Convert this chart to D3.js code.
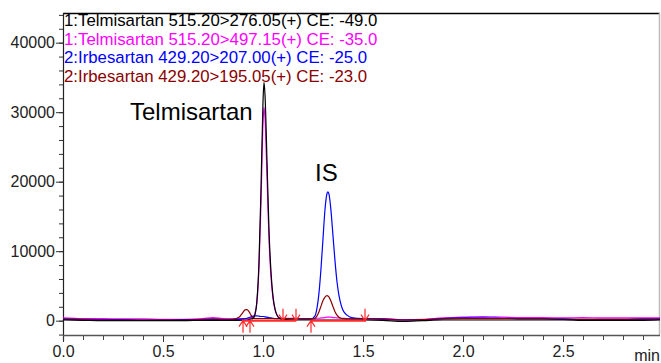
<!DOCTYPE html>
<html>
<head>
<meta charset="utf-8">
<script src="https://cdn.jsdelivr.net/npm/d3@7"></script>
<style>
  html, body { margin: 0; padding: 0; background: #fff; }
  svg { display: block; font-family: "Liberation Sans", Arial, sans-serif; }
</style>
</head>
<body>
<svg id="chart" width="661" height="363"></svg>
<script>
// ---- data ----
const times = [0, 0.1, 0.2, 0.3, 0.4, 0.5, 0.6, 0.7, 0.75, 0.8,
  0.85, 0.88, 0.9, 0.91, 0.92, 0.93, 0.94, 0.95, 0.96, 0.97,
  0.98, 0.99, 1.0, 1.005, 1.01, 1.02, 1.03, 1.04, 1.05, 1.06,
  1.07, 1.08, 1.1, 1.15, 1.2, 1.24, 1.26, 1.27, 1.28, 1.29,
  1.3, 1.31, 1.32, 1.325, 1.33, 1.34, 1.35, 1.36, 1.37, 1.38,
  1.39, 1.4, 1.42, 1.45, 1.5, 1.6, 1.7, 1.8, 1.9, 2.0,
  2.1, 2.2, 2.3, 2.4, 2.5, 2.6, 2.7, 2.8, 2.9, 2.985];

const telmi276 = [100, 50, 0, 0, 0, 0, 0, 50, 50, 50,
  50, 50, 80, 100, 100, 150, 250, 300, 900, 3000,
  8500, 19000, 31500, 34300, 32500, 23000, 13000, 7000, 3500, 1700,
  800, 400, 200, 100, 100, 100, 100, 100, 100, 100,
  100, 100, 100, 100, 100, 100, 100, 100, 100, 100,
  100, 100, 100, 100, 100, 50, -100, 0, 100, 100,
  100, 100, 100, 100, 100, 50, 50, 50, 50, 100];

const telmi497 = [400, 300, 300, 250, 250, 200, 200, 300, 450, 300,
  250, 300, 300, 300, 300, 300, 400, 500, 1000, 2800,
  7700, 17000, 28300, 30700, 29200, 20600, 11700, 6300, 3200, 1600,
  800, 450, 350, 350, 300, 300, 300, 350, 350, 400,
  400, 450, 500, 500, 500, 500, 450, 450, 400, 400,
  350, 350, 300, 300, 300, 300, 150, 200, 400, 500,
  600, 500, 450, 450, 400, 450, 400, 400, 400, 400];

const irbe207 = [250, 200, 150, 150, 100, 100, 150, 200, 250, 200,
  200, 200, 250, 300, 350, 450, 550, 650, 700, 700,
  650, 600, 600, 600, 550, 500, 450, 400, 350, 300,
  300, 300, 250, 250, 250, 250, 700, 1800, 4000, 7500,
  11800, 16000, 18300, 18550, 18200, 15800, 12200, 8600, 5600, 3600,
  2300, 1500, 800, 400, 300, 250, 100, 150, 300, 400,
  400, 350, 300, 300, 250, 200, 200, 200, 250, 250];

const irbe195 = [200, 150, 100, 100, 100, 100, 100, 150, 200, 150,
  200, 500, 1200, 1550, 1600, 1300, 800, 400, 300, 300,
  300, 300, 300, 300, 300, 300, 300, 300, 300, 300,
  300, 300, 300, 300, 250, 250, 350, 700, 1300, 2100,
  2900, 3400, 3600, 3550, 3400, 2800, 2000, 1300, 800, 500,
  350, 300, 250, 250, 250, 200, 100, 150, 250, 300,
  300, 300, 250, 250, 200, 200, 200, 200, 200, 200];

const legendLabels = [
  "1:Telmisartan 515.20>276.05(+) CE: -49.0",
  "1:Telmisartan 515.20>497.15(+) CE: -35.0",
  "2:Irbesartan 429.20>207.00(+) CE: -25.0",
  "2:Irbesartan 429.20>195.05(+) CE: -23.0"
];
const seriesColors = ["#000000", "#ff00ff", "#0000ff", "#8b0000"];

const yMajorTicks = [0, 10000, 20000, 30000, 40000];
const xMajorTicks = [0, 0.5, 1.0, 1.5, 2.0, 2.5];

const integStart = [0.90, 0.935, 1.24];   // up arrows
const integEnd = [1.10, 1.165, 1.51];     // down arrows
const integSegments = [[0.895, 1.165], [1.24, 1.515]];

const peakLabels = [
  { text: "Telmisartan", t: 0.335, v: 28900 },
  { text: "IS", t: 1.26, v: 20100 }
];

// ---- layout ----
const svg = d3.select("#chart");
const pL = 63, pR = 660, pT = 13, pB = 335;
const x = d3.scaleLinear().domain([0, 2.985]).range([pL, pR]);
const y = d3.scaleLinear().domain([-2060, 44270]).range([pB, pT]);

svg.append("defs").append("clipPath").attr("id", "clip")
  .append("rect").attr("x", pL).attr("y", pT).attr("width", pR - pL).attr("height", pB - pT);

// frame: top (black) and right (grey)
svg.append("line").attr("x1", pL).attr("x2", pR).attr("y1", pT + 0.5).attr("y2", pT + 0.5)
  .attr("stroke", "#000").attr("stroke-width", 1.5);
svg.append("line").attr("x1", pR - 0.5).attr("x2", pR - 0.5).attr("y1", pT).attr("y2", pB)
  .attr("stroke", "#bbb").attr("stroke-width", 1.5);

// y axis
const yMinor = d3.range(-2000, 44001, 2000);
const gyMinor = svg.append("g").attr("transform", `translate(${pL},0)`)
  .call(d3.axisLeft(y).tickValues(yMinor).tickSize(4).tickFormat(""));
gyMinor.select(".domain").remove();
gyMinor.selectAll("line").attr("stroke", "#333");
const gy = svg.append("g").attr("transform", `translate(${pL},0)`)
  .call(d3.axisLeft(y).tickValues(yMajorTicks).tickSize(7).tickPadding(1).tickFormat(d3.format("d")));
gy.select(".domain").remove();
gy.selectAll("line").attr("stroke", "#333");
gy.selectAll("text").attr("font-size", "16px").attr("fill", "#222")
  .attr("font-family", "Liberation Sans, Arial, sans-serif");
svg.append("line").attr("x1", pL + 0.5).attr("x2", pL + 0.5).attr("y1", pT).attr("y2", pB + 6)
  .attr("stroke", "#222").attr("stroke-width", 1.2);

// x axis
const xMinor = d3.range(0, 2.95, 0.1);
const gxMinor = svg.append("g").attr("transform", `translate(0,${pB})`)
  .call(d3.axisBottom(x).tickValues(xMinor).tickSize(5).tickFormat(""));
gxMinor.select(".domain").remove();
gxMinor.selectAll("line").attr("stroke", "#444");
const gx = svg.append("g").attr("transform", `translate(0,${pB})`)
  .call(d3.axisBottom(x).tickValues(xMajorTicks).tickSize(7).tickPadding(4).tickFormat(d3.format(".1f")));
gx.select(".domain").remove();
gx.selectAll("line").attr("stroke", "#333");
gx.selectAll("text").attr("font-size", "16px").attr("fill", "#222")
  .attr("font-family", "Liberation Sans, Arial, sans-serif");
svg.append("line").attr("x1", pL).attr("x2", pR).attr("y1", pB + 0.5).attr("y2", pB + 0.5)
  .attr("stroke", "#555").attr("stroke-width", 1.5);
svg.append("text").attr("x", pR).attr("y", pB + 26).attr("text-anchor", "end")
  .attr("font-size", "16px").attr("fill", "#222").text("min");

// traces
const seriesList = [telmi497, irbe207, irbe195, telmi276];
const seriesCol = [seriesColors[1], seriesColors[2], seriesColors[3], seriesColors[0]];
const line = d3.line().x(d => x(d[0])).y(d => y(d[1])).curve(d3.curveMonotoneX);
const plot = svg.append("g").attr("clip-path", "url(#clip)");
seriesList.forEach((vals, i) => {
  plot.append("path")
    .datum(times.map((t, k) => [t, vals[k]]))
    .attr("fill", "none")
    .attr("stroke", seriesCol[i])
    .attr("stroke-width", 1.2)
    .attr("d", line);
});

// integration baselines + markers
const red = "#ff2a2a";
integSegments.forEach(s => {
  plot.append("line").attr("x1", x(s[0])).attr("x2", x(s[1])).attr("y1", y(0)).attr("y2", y(0))
    .attr("stroke", red).attr("stroke-width", 2);
});
integStart.forEach(t => {
  const cx = x(t), cy = y(0);
  svg.append("path").attr("d", `M${cx},${cy + 12}L${cx},${cy}M${cx - 4},${cy + 6}L${cx},${cy}L${cx + 4},${cy + 6}`)
    .attr("fill", "none").attr("stroke", red).attr("stroke-width", 1.2);
});
integEnd.forEach(t => {
  const cx = x(t), cy = y(0);
  svg.append("path").attr("d", `M${cx},${cy - 12}L${cx},${cy}M${cx - 4},${cy - 6}L${cx},${cy}L${cx + 4},${cy - 6}`)
    .attr("fill", "none").attr("stroke", red).attr("stroke-width", 1.2);
});

// legend
legendLabels.forEach((lab, i) => {
  svg.append("text").attr("x", pL + 1).attr("y", 26 + i * 18.5)
    .attr("font-size", "16.8px").attr("fill", seriesColors[i]).text(lab);
});

// peak labels
peakLabels.forEach((p, i) => {
  svg.append("text").attr("x", x(p.t)).attr("y", y(p.v))
    .attr("font-size", "24px").attr("fill", "#000").text(p.text);
});
</script>
</body>
</html>
